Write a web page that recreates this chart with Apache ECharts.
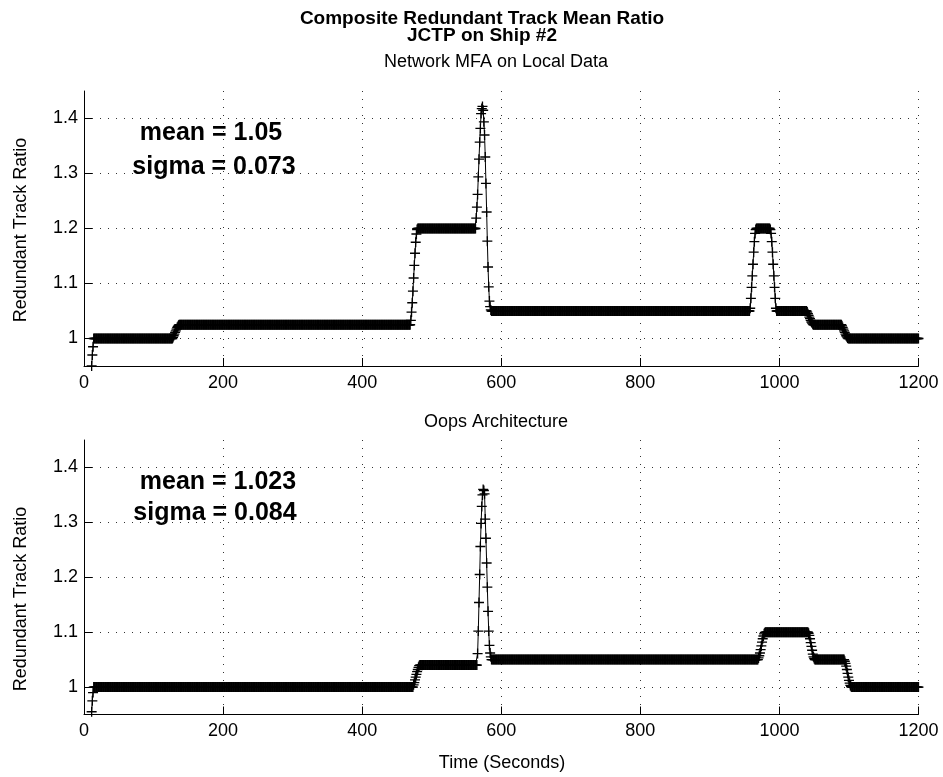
<!DOCTYPE HTML>
<html>
<head>
    <meta charset="UTF-8">
    <title>Composite Redundant Track Mean Ratio</title>
    <script src="https://cdn.jsdelivr.net/npm/echarts@6.0.0/dist/echarts.min.js"></script>
</head>
<style type="text/css">
    body {
        margin: 0;
        padding: 0;
        background: #fff;
    }
</style>
<body>
<div id="main" style="width: 943px;height: 777px;"></div>
</body>
<script type="text/javascript">

    // tick labels
    const xTickValues = [0, 200, 400, 600, 800, 1000, 1200];
    const yTickValues = [1, 1.1, 1.2, 1.3, 1.4];

    // one sample per second, written as [value, how many seconds]
    const topStart = 11;
    const topRuns = [
        [0.95, 1], [0.97, 1], [0.985, 1],
        [1.0, 114],
        [1.002, 1], [1.005, 1], [1.008, 1], [1.011, 1], [1.014, 1], [1.017, 1], [1.02, 1], [1.022, 1], [1.024, 1],
        [1.025, 333],
        [1.033, 1], [1.048, 1], [1.065, 1], [1.086, 1], [1.11, 1], [1.133, 1], [1.155, 1], [1.175, 1], [1.19, 1], [1.198, 1],
        [1.2, 84],
        [1.219, 1], [1.239, 1], [1.262, 1], [1.294, 1], [1.326, 1], [1.357, 1], [1.382, 1], [1.409, 1], [1.418, 1],
        [1.422, 1],
        [1.415, 1], [1.394, 1], [1.37, 1], [1.33, 1], [1.282, 1], [1.23, 1], [1.177, 1], [1.13, 1], [1.094, 1], [1.068, 1], [1.058, 1], [1.052, 1],
        [1.05, 372],
        [1.055, 1], [1.073, 1], [1.093, 1], [1.114, 1], [1.135, 1], [1.157, 1], [1.176, 1], [1.191, 1], [1.198, 1],
        [1.2, 20],
        [1.198, 1], [1.191, 1], [1.176, 1], [1.157, 1], [1.135, 1], [1.114, 1], [1.093, 1], [1.073, 1], [1.055, 1],
        [1.05, 44],
        [1.048, 1], [1.045, 1], [1.042, 1], [1.039, 1], [1.036, 1], [1.033, 1], [1.03, 1], [1.028, 1], [1.026, 1],
        [1.025, 41],
        [1.023, 1], [1.02, 1], [1.017, 1], [1.014, 1], [1.011, 1], [1.008, 1], [1.005, 1], [1.003, 1], [1.001, 1],
        [1.0, 102]
    ];

    const bottomStart = 11;
    const bottomRuns = [
        [0.955, 1], [0.975, 1], [0.99, 1],
        [1.0, 460],
        [1.004, 1], [1.008, 1], [1.013, 1], [1.018, 1], [1.023, 1], [1.028, 1], [1.032, 1], [1.036, 1], [1.039, 1],
        [1.04, 83],
        [1.061, 1], [1.102, 1], [1.154, 1], [1.205, 1], [1.256, 1], [1.298, 1], [1.329, 1], [1.35, 1],
        [1.36, 1],
        [1.358, 1], [1.352, 1], [1.306, 1], [1.271, 1], [1.226, 1], [1.182, 1], [1.138, 1], [1.102, 1], [1.076, 1], [1.062, 1], [1.055, 1],
        [1.05, 384],
        [1.053, 1], [1.057, 1], [1.062, 1], [1.068, 1], [1.075, 1], [1.082, 1], [1.088, 1], [1.093, 1], [1.097, 1], [1.099, 1],
        [1.1, 62],
        [1.098, 1], [1.094, 1], [1.088, 1], [1.081, 1], [1.074, 1], [1.067, 1], [1.06, 1], [1.055, 1], [1.052, 1],
        [1.05, 43],
        [1.047, 1], [1.043, 1], [1.038, 1], [1.032, 1], [1.025, 1], [1.018, 1], [1.012, 1], [1.007, 1], [1.003, 1], [1.001, 1],
        [1.0, 97]
    ];

    const topStats = ['mean = 1.05', 'sigma = 0.073'];
    const bottomStats = ['mean = 1.023', 'sigma = 0.084'];

    function toPoints(start, runs) {
        const pts = [];
        let t = start;
        runs.forEach(function (r) {
            for (let i = 0; i < r[1]; i++) {
                pts.push([t, r[0]]);
                t++;
            }
        });
        return pts;
    }

    const FONT = 'Liberation Sans, Arial, Helvetica, sans-serif';
    const plus = 'path://M0,4.35H10V5.65H0Z M4.35,0H5.65V10H4.35Z';

    function xAxis(idx) {
        return {
            gridIndex: idx,
            type: 'value',
            min: 0,
            max: 1200,
            axisLine: {lineStyle: {color: '#000', width: 1}},
            axisTick: {inside: true, length: 8, customValues: xTickValues, lineStyle: {color: '#000'}},
            axisLabel: {
                customValues: xTickValues, color: '#000', fontSize: 18, fontFamily: FONT, margin: 8,
                formatter: function (v) { return String(v); }
            },
            splitLine: {show: true, lineStyle: {color: '#333', width: 1, type: [1, 7]}}
        };
    }

    function yAxis(idx) {
        return {
            gridIndex: idx,
            type: 'value',
            min: 0.95,
            max: 1.45,
            axisLine: {show: true, lineStyle: {color: '#000', width: 1}},
            axisTick: {show: true, inside: true, length: 8, customValues: yTickValues, lineStyle: {color: '#000'}},
            axisLabel: {
                customValues: yTickValues, color: '#000', fontSize: 18, fontFamily: FONT, margin: 6,
                formatter: function (v) { return String(v); }
            },
            splitLine: {show: true, lineStyle: {color: '#333', width: 1, type: [1, 7]}}
        };
    }

    function lineSeries(idx, data) {
        return {
            type: 'line',
            xAxisIndex: idx,
            yAxisIndex: idx,
            data: data,
            symbol: plus,
            symbolSize: 10,
            showAllSymbol: true,
            itemStyle: {color: '#000'},
            lineStyle: {color: '#000', width: 1},
            silent: true
        };
    }

    function statText(x, y, text) {
        return {
            type: 'text',
            x: x,
            y: y,
            style: {
                text: text,
                fill: '#000',
                font: 'bold 25px ' + FONT,
                align: 'center',
                verticalAlign: 'middle'
            }
        };
    }

    function yName(y) {
        return {
            type: 'text',
            x: 21,
            y: y,
            rotation: Math.PI / 2,
            style: {
                text: 'Redundant Track Ratio',
                fill: '#000',
                font: '18px ' + FONT,
                align: 'center',
                verticalAlign: 'middle'
            }
        };
    }

    function label(text, x, top, weight, size, lh) {
        return {
            text: text,
            left: x,
            top: top,
            padding: 0,
            textAlign: 'center',
            textStyle: {fontSize: size, fontWeight: weight, lineHeight: lh, color: '#000', fontFamily: FONT}
        };
    }

    const chart = echarts.init(document.getElementById('main'), null, {renderer: 'canvas'});

    const option = {
        animation: false,
        backgroundColor: '#fff',
        title: [
            label('Composite Redundant Track Mean Ratio\nJCTP on Ship #2', 482, 10, 'bold', 19, 17),
            label('Network MFA on Local Data', 496, 53, 'normal', 18, 18),
            label('Oops Architecture', 496, 413, 'normal', 18, 18),
            label('Time (Seconds)', 502, 754, 'normal', 18, 18)
        ],
        grid: [
            {left: 84, top: 91, width: 834.5, height: 275},
            {left: 84, top: 440, width: 834.5, height: 274.5}
        ],
        xAxis: [xAxis(0), xAxis(1)],
        yAxis: [yAxis(0), yAxis(1)],
        series: [
            lineSeries(0, toPoints(topStart, topRuns)),
            lineSeries(1, toPoints(bottomStart, bottomRuns))
        ],
        graphic: [
            yName(230),
            yName(599),
            statText(211, 133, topStats[0]),
            statText(214, 167, topStats[1]),
            statText(218, 482, bottomStats[0]),
            statText(215, 513, bottomStats[1])
        ]
    };

    chart.setOption(option);

</script>
</html>
